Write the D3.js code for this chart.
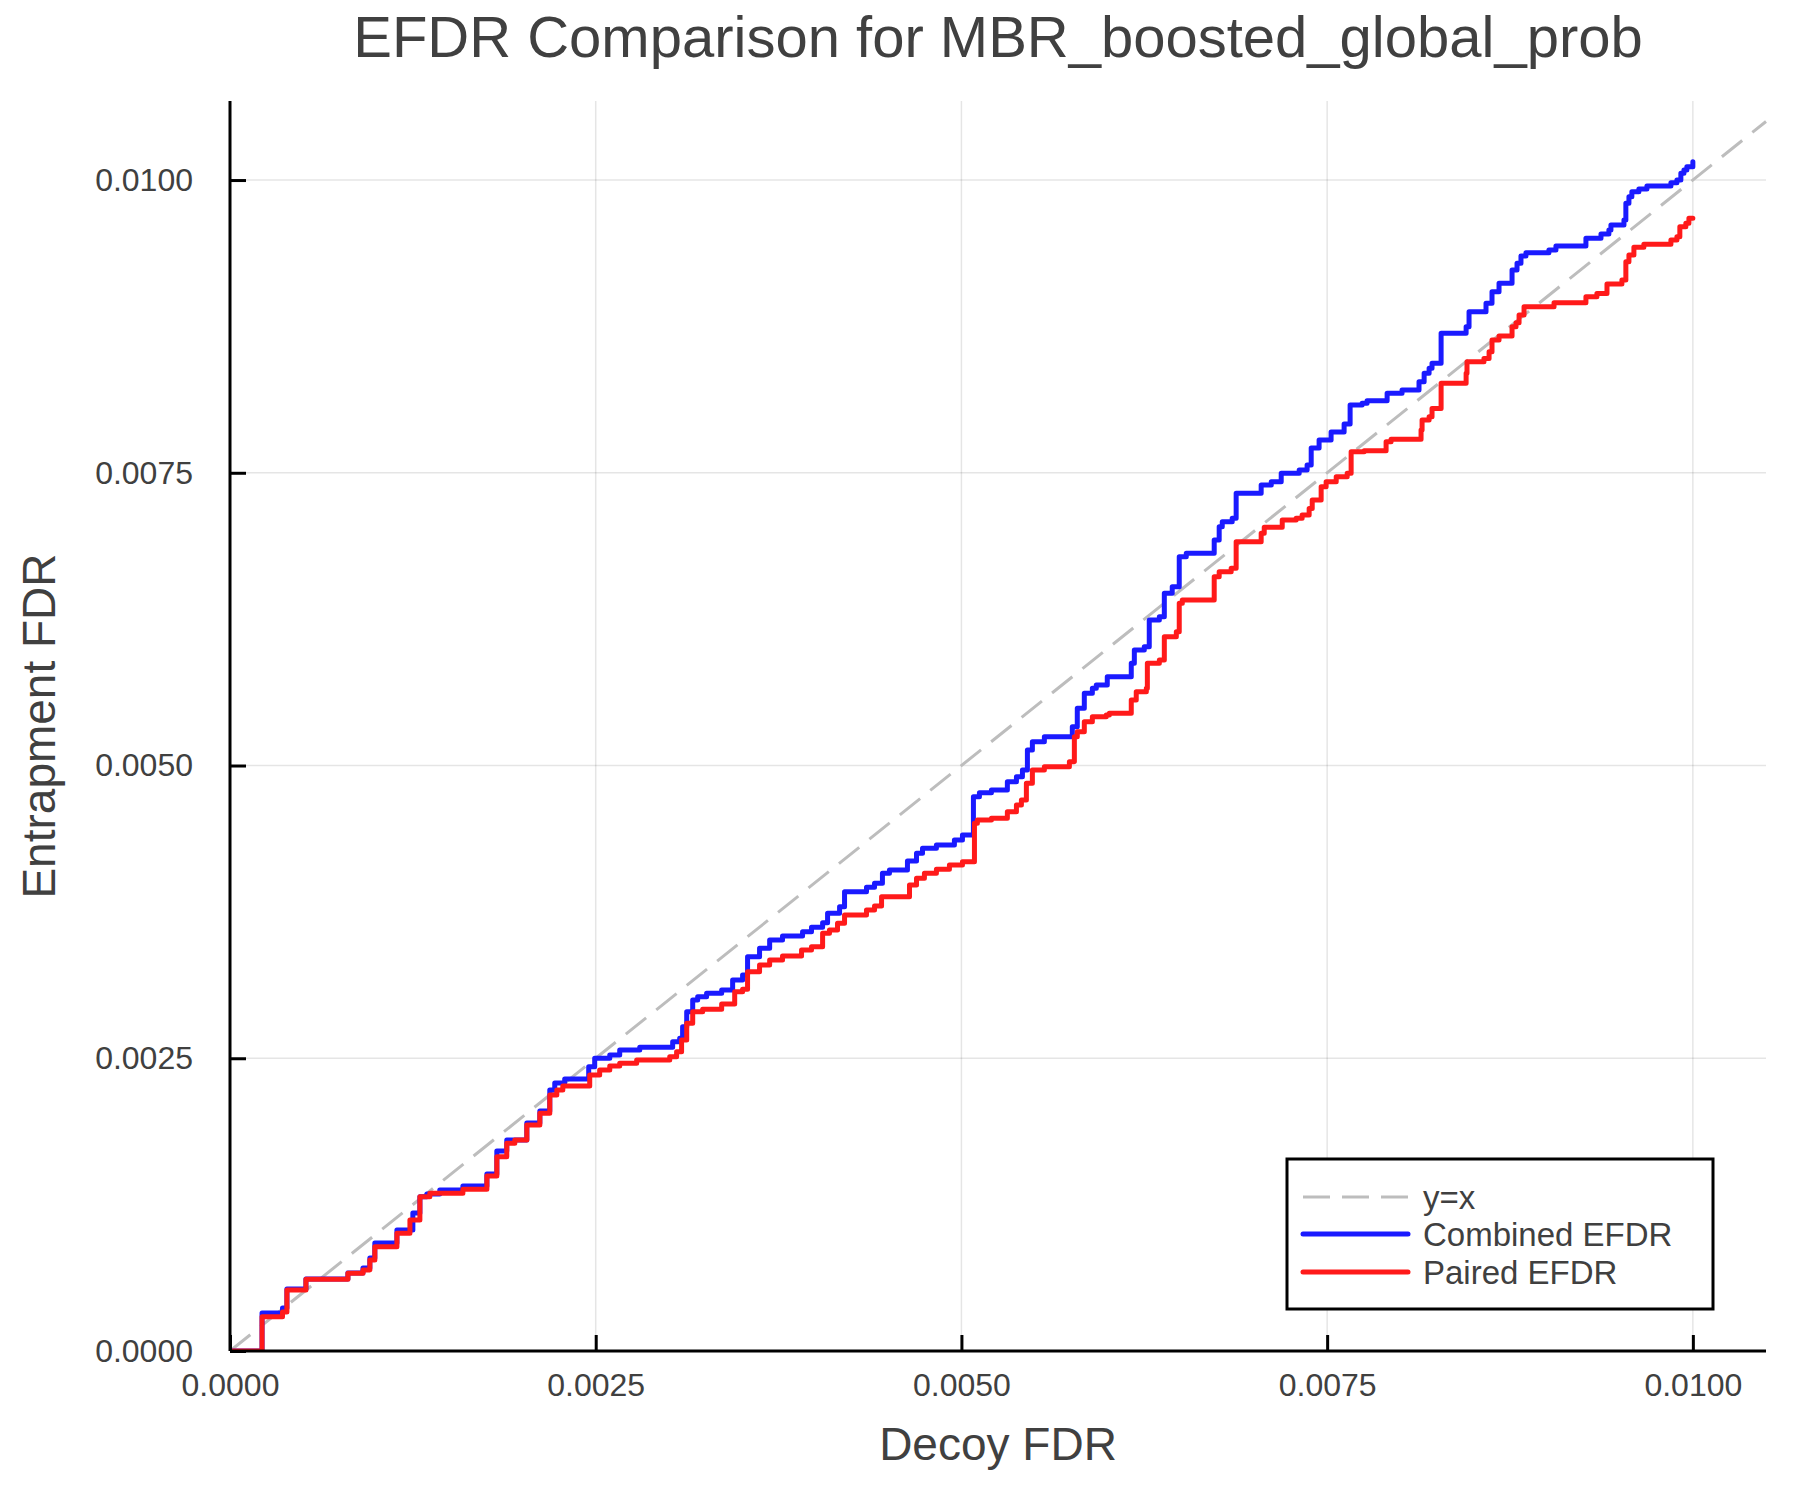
<!DOCTYPE html>
<html>
<head>
<meta charset="utf-8">
<script src="https://cdn.jsdelivr.net/npm/d3@7"></script>
<style>
  html, body { margin: 0; padding: 0; background: #ffffff; }
  svg { display: block; }
  text { font-family: "Liberation Sans", Arial, Helvetica, sans-serif; fill: #404040; }
</style>
</head>
<body>
<svg id="chart" width="1800" height="1500"></svg>
<script>
// ---------------- DATA ----------------
const titleText = "EFDR Comparison for MBR_boosted_global_prob";
const xLabel = "Decoy FDR";
const yLabel = "Entrapment FDR";
const xTicks = [0, 0.0025, 0.005, 0.0075, 0.01];
const yTicks = [0, 0.0025, 0.005, 0.0075, 0.01];
const seriesNames = ["y=x", "Combined EFDR", "Paired EFDR"];
const xLimit = [0, 0.0105];
const yLimit = [0, 0.010675];
const refLine = [[0, 0], [0.0105, 0.0105]];

// Combined EFDR (step points: decoy FDR, entrapment FDR)
const combinedX = [0,0.000219,0.000359,0.000389,0.000519,0.000806,0.000909,0.000956,0.000990,0.001141,
0.001250,0.001298,0.001346,0.001434,0.001592,0.001756,0.001824,0.001892,0.002029,0.002118,
0.002186,0.002220,0.002288,0.002452,0.002493,0.002596,0.002664,0.002801,0.003026,0.003074,
0.003094,0.003122,0.003163,0.003197,0.003258,0.003361,0.003436,0.003504,0.003538,0.003620,
0.003689,0.003777,0.003914,0.003975,0.004051,0.004085,0.004167,0.004201,0.004351,0.004406,
0.004460,0.004508,0.004631,0.004693,0.004734,0.004829,0.004952,0.005007,0.005082,0.005123,
0.005205,0.005314,0.005376,0.005417,0.005451,0.005485,0.005567,0.005758,0.005792,0.005840,
0.005895,0.005922,0.005997,0.006161,0.006182,0.006250,0.006284,0.006353,0.006387,0.006441,
0.006489,0.006537,0.006728,0.006762,0.006783,0.006851,0.006878,0.007049,0.007118,0.007186,
0.007309,0.007363,0.007391,0.007445,0.007527,0.007616,0.007657,0.007739,0.007773,0.007910,
0.008012,0.008128,0.008163,0.008197,0.008217,0.008279,0.008450,0.008470,0.008586,0.008627,
0.008675,0.008764,0.008798,0.008825,0.008859,0.009016,0.009064,0.009269,0.009372,0.009426,
0.009440,0.009529,0.009542,0.009563,0.009583,0.009631,0.009686,0.009850,0.009891,0.009918,
0.009939,0.009959,0.010000];
const combinedY = [0,0.000325,0.000367,0.000530,0.000615,0.000666,0.000709,0.000794,0.000922,0.001033,
0.001179,0.001318,0.001341,0.001375,0.001409,0.001512,0.001708,0.001802,0.001947,0.002050,
0.002229,0.002289,0.002323,0.002428,0.002500,0.002528,0.002571,0.002594,0.002641,0.002670,
0.002769,0.002898,0.002997,0.003026,0.003055,0.003083,0.003168,0.003211,0.003367,0.003439,
0.003510,0.003544,0.003581,0.003618,0.003658,0.003738,0.003794,0.003922,0.003960,0.003994,
0.004079,0.004108,0.004185,0.004250,0.004293,0.004321,0.004364,0.004407,0.004734,0.004768,
0.004791,0.004862,0.004904,0.004962,0.005132,0.005203,0.005246,0.005331,0.005489,0.005617,
0.005659,0.005687,0.005758,0.005873,0.005986,0.006015,0.006243,0.006271,0.006471,0.006527,
0.006783,0.006812,0.006926,0.007039,0.007082,0.007111,0.007325,0.007395,0.007424,0.007495,
0.007524,0.007566,0.007711,0.007780,0.007848,0.007916,0.008079,0.008093,0.008115,0.008179,
0.008207,0.008278,0.008349,0.008392,0.008435,0.008691,0.008747,0.008875,0.008947,0.009046,
0.009118,0.009231,0.009289,0.009351,0.009379,0.009402,0.009436,0.009502,0.009539,0.009573,
0.009616,0.009658,0.009801,0.009857,0.009900,0.009923,0.009949,0.009977,0.010000,0.010057,
0.010085,0.010114,0.010156];

// Paired EFDR
const pairedX = [0,0.000219,0.000359,0.000389,0.000519,0.000806,0.000909,0.000956,0.000990,0.001141,
0.001230,0.001298,0.001366,0.001592,0.001756,0.001824,0.001892,0.001947,0.002029,0.002118,
0.002186,0.002234,0.002275,0.002459,0.002527,0.002596,0.002664,0.002780,0.003006,0.003053,
0.003087,0.003122,0.003163,0.003231,0.003361,0.003450,0.003504,0.003538,0.003620,0.003689,
0.003777,0.003907,0.003975,0.004051,0.004098,0.004153,0.004201,0.004351,0.004406,0.004454,
0.004645,0.004693,0.004747,0.004829,0.004918,0.005007,0.005089,0.005109,0.005205,0.005314,
0.005376,0.005410,0.005444,0.005485,0.005567,0.005738,0.005772,0.005792,0.005840,0.005895,
0.005990,0.006011,0.006161,0.006195,0.006264,0.006271,0.006353,0.006387,0.006469,0.006489,
0.006510,0.006728,0.006762,0.006844,0.006878,0.007049,0.007070,0.007193,0.007288,0.007329,
0.007377,0.007398,0.007459,0.007493,0.007562,0.007637,0.007664,0.007753,0.007903,0.007937,
0.008142,0.008149,0.008197,0.008217,0.008279,0.008450,0.008456,0.008572,0.008607,0.008627,
0.008675,0.008764,0.008791,0.008812,0.008846,0.009051,0.009269,0.009344,0.009413,0.009515,
0.009542,0.009563,0.009597,0.009665,0.009850,0.009891,0.009911,0.009952,0.009973,0.010000];
const pairedY = [0,0.000293,0.000333,0.000521,0.000612,0.000664,0.000692,0.000777,0.000891,0.001005,
0.001119,0.001318,0.001347,0.001381,0.001494,0.001659,0.001774,0.001802,0.001930,0.002030,
0.002186,0.002229,0.002263,0.002357,0.002400,0.002434,0.002457,0.002485,0.002513,0.002556,
0.002656,0.002799,0.002898,0.002918,0.002963,0.003068,0.003089,0.003239,0.003296,0.003339,
0.003373,0.003424,0.003453,0.003567,0.003595,0.003652,0.003723,0.003766,0.003800,0.003880,
0.003980,0.004037,0.004079,0.004114,0.004150,0.004179,0.004506,0.004535,0.004549,0.004606,
0.004663,0.004705,0.004848,0.004962,0.004990,0.005033,0.005246,0.005289,0.005374,0.005417,
0.005431,0.005446,0.005559,0.005630,0.005659,0.005873,0.005901,0.006100,0.006143,0.006385,
0.006413,0.006612,0.006655,0.006684,0.006911,0.006983,0.007034,0.007097,0.007111,0.007139,
0.007196,0.007267,0.007381,0.007424,0.007466,0.007495,0.007680,0.007688,0.007765,0.007786,
0.007865,0.007951,0.007979,0.008050,0.008264,0.008349,0.008448,0.008477,0.008534,0.008634,
0.008668,0.008747,0.008781,0.008847,0.008918,0.008952,0.009003,0.009032,0.009112,0.009146,
0.009302,0.009360,0.009425,0.009451,0.009488,0.009516,0.009601,0.009630,0.009673,0.009673];

const seriesColors = ["#bdbdbd", "#1a1aff", "#ff1a1a"];

// ---------------- LAYOUT ----------------
const svg = d3.select("#chart");
const plotLeft = 230, plotRight = 1766, plotTop = 101, plotBottom = 1351;

const x = d3.scaleLinear().domain(xLimit).range([plotLeft, plotRight]);
const y = d3.scaleLinear().domain(yLimit).range([plotBottom, plotTop]);

svg.append("rect").attr("width", 1800).attr("height", 1500).attr("fill", "#ffffff");

// grid
const grid = svg.append("g");
grid.selectAll("line.vx").data(xTicks).enter().append("line")
  .attr("x1", d => x(d)).attr("x2", d => x(d))
  .attr("y1", plotTop).attr("y2", plotBottom)
  .attr("stroke", "#000").attr("stroke-opacity", 0.1).attr("stroke-width", 1.5);
grid.selectAll("line.hy").data(yTicks).enter().append("line")
  .attr("y1", d => y(d)).attr("y2", d => y(d))
  .attr("x1", plotLeft).attr("x2", plotRight)
  .attr("stroke", "#000").attr("stroke-opacity", 0.1).attr("stroke-width", 1.5);

// clip
svg.append("clipPath").attr("id", "clip").append("rect")
  .attr("x", plotLeft).attr("y", plotTop - 5)
  .attr("width", plotRight - plotLeft + 2).attr("height", plotBottom - plotTop + 5);

const plotG = svg.append("g").attr("clip-path", "url(#clip)");

// y = x reference
const refGen = d3.line().x(d => x(d[0])).y(d => y(d[1]));
plotG.append("path").datum(refLine).attr("d", refGen)
  .attr("fill", "none").attr("stroke", seriesColors[0])
  .attr("stroke-width", 3).attr("stroke-dasharray", "26,13");

const stepGen = d3.line().x(d => x(d[0])).y(d => y(d[1])).curve(d3.curveStepAfter);
const combined = combinedX.map((v, i) => [v, combinedY[i]]);
const paired = pairedX.map((v, i) => [v, pairedY[i]]);

plotG.append("path").datum(combined).attr("d", stepGen)
  .attr("fill", "none").attr("stroke", seriesColors[1])
  .attr("stroke-width", 5).attr("stroke-linejoin", "round").attr("stroke-linecap", "round");
plotG.append("path").datum(paired).attr("d", stepGen)
  .attr("fill", "none").attr("stroke", seriesColors[2])
  .attr("stroke-width", 5).attr("stroke-linejoin", "round").attr("stroke-linecap", "round");

// axes
const fmt = d3.format(".4f");
const xAxis = d3.axisBottom(x).tickValues(xTicks).tickFormat(fmt)
  .tickSizeInner(-16).tickSizeOuter(0).tickPadding(22);
const yAxis = d3.axisLeft(y).tickValues(yTicks).tickFormat(fmt)
  .tickSizeInner(-16).tickSizeOuter(0).tickPadding(37);

const gx = svg.append("g").attr("transform", `translate(0,${plotBottom})`).call(xAxis);
const gy = svg.append("g").attr("transform", `translate(${plotLeft},0)`).call(yAxis);
[gx, gy].forEach(g => {
  g.select(".domain").attr("stroke", "#000").attr("stroke-width", 3);
  g.selectAll(".tick line").attr("stroke", "#000").attr("stroke-width", 3);
  g.selectAll(".tick text").attr("font-size", 32).attr("fill", "#404040")
    .attr("font-family", '"Liberation Sans", Arial, sans-serif');
});
gx.select(".domain").attr("d", `M${plotLeft},0H${plotRight}`);
gy.select(".domain").attr("d", `M0,${plotBottom}V${plotTop}`);

// title & labels
const cx = (plotLeft + plotRight) / 2;
svg.append("text").attr("x", cx).attr("y", 57).attr("text-anchor", "middle")
  .attr("font-size", 58).text(titleText);
svg.append("text").attr("x", cx).attr("y", 1460).attr("text-anchor", "middle")
  .attr("font-size", 46).text(xLabel);
svg.append("text").attr("transform", `translate(55,${(plotTop + plotBottom) / 2}) rotate(-90)`)
  .attr("text-anchor", "middle").attr("font-size", 46).text(yLabel);

// legend
const lg = svg.append("g");
lg.append("rect").attr("x", 1287).attr("y", 1159).attr("width", 426).attr("height", 150)
  .attr("fill", "#fff").attr("stroke", "#000").attr("stroke-width", 3);
const legendRows = [1197, 1234, 1272];
seriesNames.forEach((name, i) => {
  const ly = legendRows[i];
  const ln = lg.append("line").attr("x1", 1303).attr("x2", 1408).attr("y1", ly).attr("y2", ly)
    .attr("stroke", seriesColors[i]).attr("stroke-width", i === 0 ? 3 : 5)
    .attr("stroke-linecap", i === 0 ? "butt" : "round");
  if (i === 0) ln.attr("stroke-dasharray", "27,12");
  lg.append("text").attr("x", 1423).attr("y", ly + 12).attr("font-size", 33).text(name);
});
</script>
</body>
</html>
